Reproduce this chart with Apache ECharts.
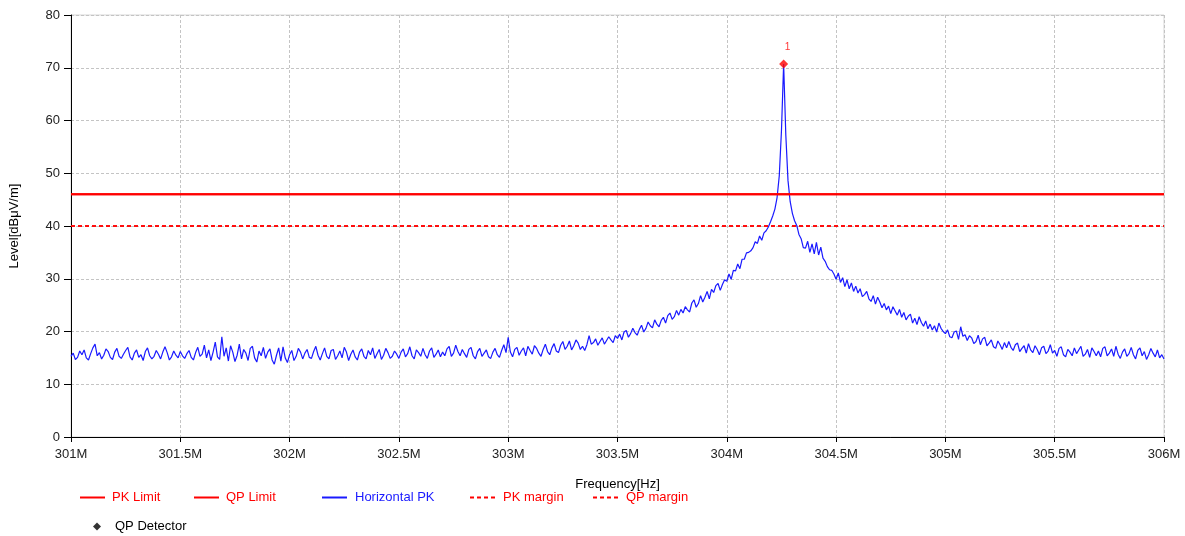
<!DOCTYPE html>
<html>
<head>
<meta charset="utf-8">
<script src="https://cdn.jsdelivr.net/npm/echarts@6/dist/echarts.min.js"></script>
<style>
  html, body { margin: 0; padding: 0; background: #fff; }
  #chart { width: 1185px; height: 536px; }
</style>
</head>
<body>
<div id="chart"></div>
<script>
// sweep: 301 MHz .. 306 MHz, 10 kHz steps
var freqStart = 301;
var freqStep = 0.01;
var levelsPK = [
  15.3,15.9,14.7,15.1,16.3,15.6,16.5,15.0,14.6,15.8,
  16.9,17.6,15.4,16.0,14.8,15.5,16.7,16.2,15.1,14.7,
  16.1,16.8,15.3,14.9,15.7,16.4,17.0,15.2,14.6,15.9,
  16.5,15.1,15.6,14.5,16.2,16.9,15.4,14.8,15.3,16.4,
  15.7,14.8,16.1,17.1,16.0,14.6,15.2,16.3,15.5,15.0,
  16.2,15.4,14.9,15.8,16.4,15.1,14.6,16.0,17.0,15.3,
  15.7,17.4,15.0,16.5,14.5,16.1,18.0,15.2,14.7,19.0,
  15.3,16.9,14.4,17.3,16.1,14.3,15.5,17.6,14.8,16.6,
  15.9,14.5,16.8,17.2,15.0,14.2,16.3,15.4,17.0,14.9,
  16.1,16.7,14.6,13.8,15.5,16.9,14.4,17.1,15.0,14.1,
  15.6,16.4,14.5,15.3,16.8,16.1,14.8,15.9,16.6,15.1,
  14.9,16.2,17.2,15.5,14.6,15.8,16.9,15.3,14.8,16.4,
  16.6,14.7,15.4,16.3,15.0,17.0,16.1,14.5,15.7,16.5,
  15.2,14.6,16.1,16.7,15.3,14.8,16.4,15.6,16.9,14.9,
  15.8,16.6,14.7,15.5,16.8,16.0,14.9,15.3,16.3,15.7,
  14.9,16.1,16.7,15.2,15.8,17.1,15.4,14.8,16.5,16.0,
  15.3,16.8,15.6,14.9,16.3,16.9,15.1,15.7,16.5,15.2,
  16.1,15.4,16.7,17.2,15.3,15.9,17.4,16.2,15.4,16.6,
  15.8,15.1,16.6,17.0,15.4,14.8,16.2,16.8,15.3,15.9,
  16.5,15.2,14.9,16.1,16.8,15.6,15.1,16.4,17.5,16.0,
  18.9,16.1,15.2,16.6,17.0,15.5,16.3,16.9,15.4,17.2,
  16.4,15.7,17.3,16.8,15.9,15.3,16.6,17.6,16.2,15.6,
  16.9,17.7,16.3,16.0,17.4,18.1,16.6,17.2,18.2,16.5,
  17.3,18.4,17.8,16.6,17.2,16.4,17.5,19.2,17.6,17.9,
  18.6,17.4,18.1,18.8,17.6,18.3,19.0,18.4,17.9,19.2,
  18.7,19.5,18.4,19.9,20.2,18.9,19.6,20.6,19.8,19.3,
  20.4,21.2,19.9,20.6,21.8,21.1,20.7,22.2,21.4,20.9,
  22.1,22.7,21.6,23.0,23.5,22.3,22.8,24.0,23.1,24.2,
  23.5,24.7,24.1,23.7,25.4,26.0,24.6,25.3,26.8,25.6,
  26.5,27.6,26.2,28.0,27.4,28.7,29.1,27.8,28.9,29.8,
  29.5,30.9,29.9,31.6,31.5,32.8,31.9,33.7,33.7,34.9,
  35.0,35.3,35.9,37.0,36.7,38.1,37.3,38.7,39.1,39.8,
  40.8,41.9,43.2,45.4,49.5,58.0,70.7,57.2,48.6,44.6,
  42.4,41.0,40.1,38.4,37.6,35.9,35.8,37.1,35.0,36.6,
  34.7,36.9,34.5,36.0,33.9,33.3,32.3,31.7,31.6,30.9,
  29.9,31.1,29.3,30.2,28.5,29.8,28.1,29.2,27.6,28.6,
  27.3,28.1,26.6,27.0,27.6,26.2,25.7,26.8,25.2,26.5,
  25.6,24.5,25.3,24.1,24.8,23.4,24.7,23.9,23.1,24.2,
  22.7,23.6,22.2,22.9,23.3,21.6,22.5,21.3,22.8,21.7,
  21.0,22.0,20.5,21.4,20.3,21.1,19.9,21.6,20.6,20.0,
  19.6,20.3,19.0,18.8,19.9,20.1,18.5,20.9,19.1,19.4,
  18.3,19.2,18.8,17.7,18.1,19.3,17.5,18.6,18.9,17.3,
  17.8,18.4,17.1,16.8,18.2,17.5,16.6,17.9,16.9,18.1,
  17.0,16.4,17.5,17.8,16.2,16.8,17.3,15.9,17.7,16.5,
  16.0,17.3,16.6,15.6,16.9,17.2,15.8,16.3,17.5,15.9,
  16.4,15.3,16.8,17.1,15.6,15.2,16.6,16.1,15.4,16.9,
  15.8,16.5,17.2,15.3,15.7,16.6,15.1,16.9,16.2,15.4,
  16.3,15.2,16.8,17.1,15.4,15.9,16.7,15.3,17.2,15.7,
  14.9,16.1,16.7,15.3,15.8,17.0,15.6,14.8,16.4,16.9,
  15.4,16.2,14.7,15.6,16.8,15.9,15.2,16.5,15.0,15.6,
  14.8
];

// limit lines (start / end of sweep)
var limitFreqs = [301, 306];
var pkLimit = [46, 46];
var qpLimit = [46, 46];
var pkMargin = [40, 40];
var qpMargin = [40, 40];

// QP detector readings
var qpFreqs = [304.26];
var qpLevels = [70.7];
var qpLabels = ['1'];

var xTicks = { min: 301, max: 306, step: 0.5 };
var yTicks = { min: 0, max: 80, step: 10 };

function pairs(xs, ys) {
  var out = [];
  for (var i = 0; i < ys.length; i++) out.push([xs[i], ys[i]]);
  return out;
}

var sweepFreqs = [];
for (var i = 0; i < levelsPK.length; i++) {
  sweepFreqs.push(+(freqStart + i * freqStep).toFixed(2));
}

var FONT = '"Liberation Sans", Arial, sans-serif';
var RED = '#ff0000';
var BLUE = '#1a1aff';
// legend icons: plain line and dashed line (no symbol)
var ICON_SOLID = 'path://M0,0h25v2h-25z';
var ICON_DASH = 'path://M0,0h4v2h-4z M7,0h4v2h-4z M14,0h4v2h-4z M21,0h4v2h-4z';

function legendItem(name, left, top, color, icon, w, h, pad) {
  return {
    data: [name],
    left: left,
    top: top,
    padding: 0,
    icon: icon,
    itemWidth: w,
    itemHeight: h,
    selectedMode: false,
    textStyle: { color: color, fontSize: 13, fontFamily: FONT, padding: [0, 0, 0, pad] }
  };
}

var chart = echarts.init(document.getElementById('chart'));
chart.setOption({
  animation: false,
  backgroundColor: '#fff',
  grid: {
    left: 68, right: 21, top: 15, bottom: 99,
    show: true, borderColor: '#d6d6d6', borderWidth: 1
  },
  legend: [
    legendItem('PK Limit', 80, 491, RED, ICON_SOLID, 25, 2, 2),
    legendItem('QP Limit', 194, 491, RED, ICON_SOLID, 25, 2, 2),
    legendItem('Horizontal PK', 322, 491, BLUE, ICON_SOLID, 25, 2, 3),
    legendItem('PK margin', 470, 491, RED, ICON_DASH, 25, 2, 3),
    legendItem('QP margin', 593, 491, RED, ICON_DASH, 25, 2, 3),
    Object.assign(legendItem('QP Detector', 93, 520, '#000', 'diamond', 8, 8, 9),
      { itemStyle: { color: '#000' } })
  ],
  xAxis: {
    type: 'value',
    min: xTicks.min,
    max: xTicks.max,
    interval: xTicks.step,
    name: 'Frequency[Hz]',
    nameLocation: 'middle',
    nameGap: 41,
    nameTextStyle: { color: '#000', fontSize: 13, fontFamily: FONT },
    axisLine: { onZero: false, lineStyle: { color: '#000', width: 1 } },
    axisTick: { show: true, length: 5, lineStyle: { color: '#000' } },
    axisLabel: {
      color: '#222', fontSize: 13, fontFamily: FONT, margin: 11,
      formatter: function (v) { return v + 'M'; }
    },
    splitLine: { show: true, lineStyle: { color: '#c4c4c4', type: [3, 2], width: 1 } }
  },
  yAxis: {
    type: 'value',
    min: yTicks.min,
    max: yTicks.max,
    interval: yTicks.step,
    name: 'Level[dBμV/m]',
    nameLocation: 'middle',
    nameGap: 50,
    nameRotate: 90,
    nameTextStyle: { color: '#000', fontSize: 13, fontFamily: FONT },
    axisLine: { show: true, lineStyle: { color: '#000', width: 1 } },
    axisTick: { show: true, length: 7, lineStyle: { color: '#000' } },
    axisLabel: { color: '#222', fontSize: 13, fontFamily: FONT, margin: 11 },
    splitLine: { show: true, lineStyle: { color: '#c4c4c4', type: [3, 2], width: 1 } }
  },
  series: [
    {
      name: 'PK Limit', type: 'line', symbol: 'none', z: 3,
      lineStyle: { color: RED, width: 2 }, itemStyle: { color: RED },
      data: pairs(limitFreqs, pkLimit)
    },
    {
      name: 'QP Limit', type: 'line', symbol: 'none', z: 3,
      lineStyle: { color: RED, width: 2 }, itemStyle: { color: RED },
      data: pairs(limitFreqs, qpLimit)
    },
    {
      name: 'Horizontal PK', type: 'line', symbol: 'none', z: 2,
      lineStyle: { color: BLUE, width: 1.2 }, itemStyle: { color: BLUE },
      data: pairs(sweepFreqs, levelsPK)
    },
    {
      name: 'PK margin', type: 'line', symbol: 'none', z: 3,
      lineStyle: { color: RED, width: 1.5, type: [4, 3] }, itemStyle: { color: RED },
      data: pairs(limitFreqs, pkMargin)
    },
    {
      name: 'QP margin', type: 'line', symbol: 'none', z: 3,
      lineStyle: { color: RED, width: 1.5, type: [4, 3] }, itemStyle: { color: RED },
      data: pairs(limitFreqs, qpMargin)
    },
    {
      name: 'QP Detector', type: 'scatter', symbol: 'diamond', symbolSize: 9, z: 5,
      itemStyle: { color: RED },
      label: {
        show: true, position: 'top', distance: 7, offset: [4, 0],
        color: RED, fontSize: 10, fontFamily: FONT,
        formatter: function (p) { return qpLabels[p.dataIndex]; }
      },
      data: pairs(qpFreqs, qpLevels)
    }
  ]
});
</script>
</body>
</html>
